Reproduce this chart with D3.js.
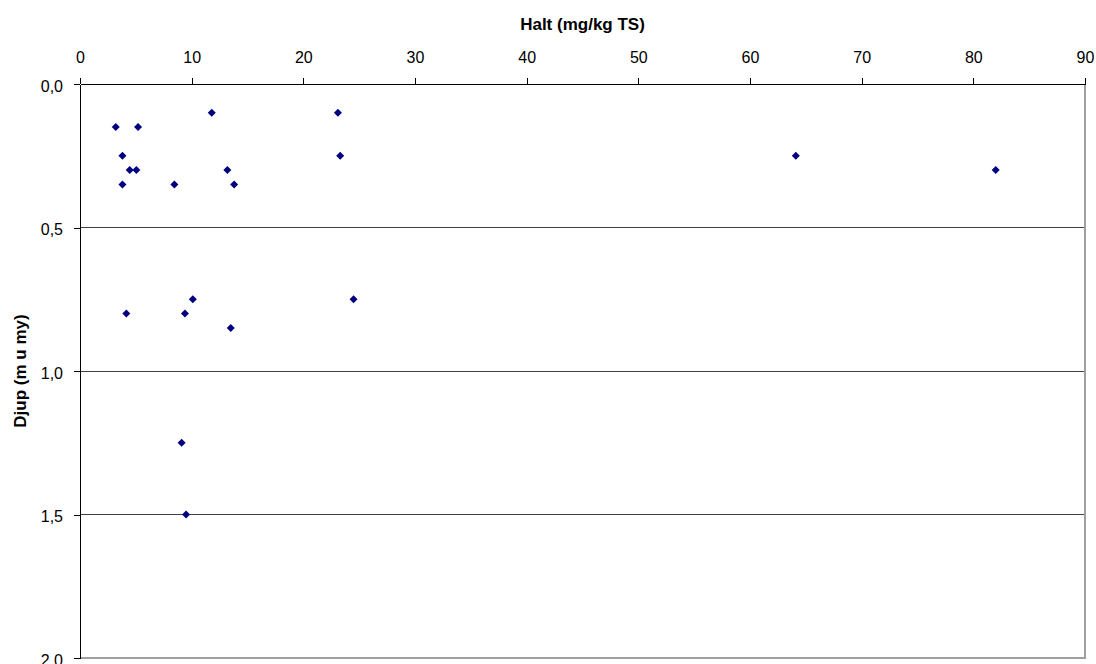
<!DOCTYPE html>
<html>
<head>
<meta charset="utf-8">
<script src="https://cdn.jsdelivr.net/npm/d3@7"></script>
<style>
  body { margin: 0; background: #fff; }
  text { font-family: "Liberation Sans", Arial, sans-serif; }
</style>
</head>
<body>
<div id="chart"></div>
<script>
// Halt (mg/kg TS) vs depth (m u my)
const halt = [11.8, 23.1, 3.2, 5.2, 3.8, 23.3, 4.45, 5.05, 13.2, 3.8, 8.45, 13.8, 64.1, 82.0, 10.1, 4.15, 9.4, 13.5, 24.5, 9.1, 9.5];
const djup = [0.10, 0.10, 0.15, 0.15, 0.25, 0.25, 0.30, 0.30, 0.30, 0.35, 0.35, 0.35, 0.25, 0.30, 0.75, 0.80, 0.80, 0.85, 0.75, 1.25, 1.50];
const xTicks = [0, 10, 20, 30, 40, 50, 60, 70, 80, 90];
const yTicks = [0, 0.5, 1.0, 1.5, 2.0];

const svg = d3.select('#chart')
  .append('svg')
  .attr('width', 1096)
  .attr('height', 664);

const margin = { top: 84, right: 11, bottom: 6, left: 80 },
      width = +svg.attr('width') - margin.left - margin.right,
      height = +svg.attr('height') - margin.top - margin.bottom;

const chart = svg.append('g')
  .attr('transform', `translate(${margin.left},${margin.top})`);

const x = d3.scaleLinear().domain([0, 90]).range([0, width]);
const y = d3.scaleLinear().domain([0, 2]).range([0, height]);

const fmt = d => d3.format('.1f')(d).replace('.', ',');

// gridlines
chart.append('g')
  .selectAll('line')
  .data(yTicks.slice(1, -1))
  .join('line')
  .attr('x1', 0)
  .attr('x2', width)
  .attr('y1', d => y(d))
  .attr('y2', d => y(d))
  .attr('stroke', '#404040')
  .attr('stroke-width', 1)
  .attr('shape-rendering', 'crispEdges');

// right and bottom border
chart.append('path')
  .attr('d', `M${width},0V${height}H0`)
  .attr('fill', 'none')
  .attr('stroke', '#a0a0a0')
  .attr('stroke-width', 1.5)
  .attr('shape-rendering', 'crispEdges');

// Axes
const xAxis = chart.append('g')
  .call(d3.axisTop(x).tickValues(xTicks).tickSize(6).tickSizeOuter(0).tickPadding(15));
const yAxis = chart.append('g')
  .call(d3.axisLeft(y).tickValues(yTicks).tickFormat(fmt).tickSize(6).tickSizeOuter(0).tickPadding(11));

[xAxis, yAxis].forEach(a => {
  a.selectAll('text')
    .style('font-family', '"Liberation Sans", Arial, sans-serif')
    .style('font-size', '16px')
    .attr('fill', '#000');
  a.selectAll('line, path').attr('stroke', '#000').attr('shape-rendering', 'crispEdges');
});
yAxis.selectAll('text').attr('dy', '0.45em');

// Axis labels
svg.append('text')
  .attr('x', margin.left + width / 2)
  .attr('y', 30)
  .attr('text-anchor', 'middle')
  .style('font-size', '17px')
  .style('font-weight', 'bold')
  .text('Halt (mg/kg TS)');

svg.append('text')
  .attr('transform', `translate(26,${margin.top + y(1)}) rotate(-90)`)
  .attr('text-anchor', 'middle')
  .style('font-size', '17px')
  .style('font-weight', 'bold')
  .text('Djup (m u my)');

// Points
const points = halt.map((h, i) => ({ h, d: djup[i] }));
chart.selectAll('path.pt')
  .data(points)
  .join('path')
  .attr('class', 'pt')
  .attr('d', d3.symbol(d3.symbolSquare, 32)())
  .attr('transform', d => `translate(${x(d.h)},${y(d.d)}) rotate(45)`)
  .attr('fill', '#000080');
</script>
</body>
</html>
